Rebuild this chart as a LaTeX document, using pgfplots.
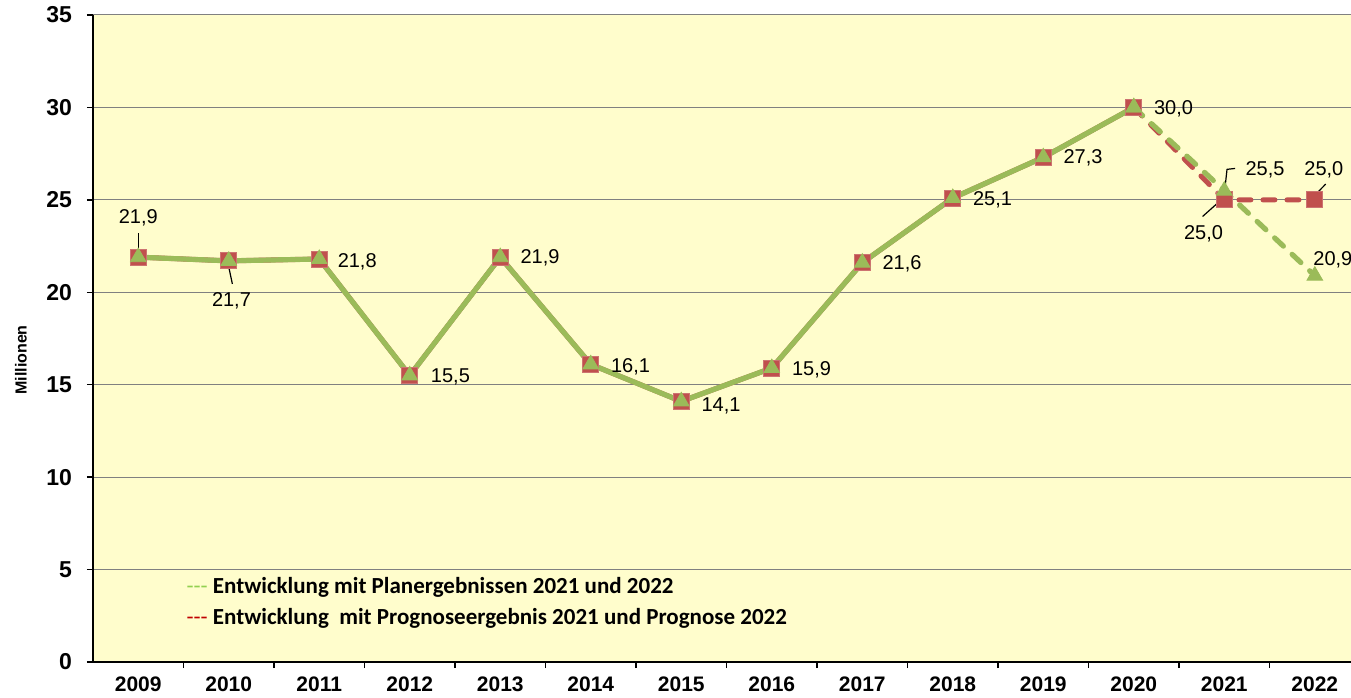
\documentclass[border=0pt]{standalone}
\usepackage{fontspec}
\setmainfont{Liberation Sans}
\newfontfamily\calibri{Carlito}
\usepackage{pgfplots}
\pgfplotsset{compat=1.18}
\usepackage{pgfplotstable}
\usetikzlibrary{calc}
\definecolor{bg}{RGB}{255,253,204}
\definecolor{gr}{RGB}{155,187,89}
\definecolor{rd}{RGB}{192,80,77}
\definecolor{lg}{RGB}{146,208,80}
\definecolor{lr}{RGB}{192,0,0}

\pgfplotstableread{
x y
0 21.9
1 21.7
2 21.8
3 15.5
4 21.9
5 16.1
6 14.1
7 15.9
8 21.6
9 25.1
10 27.3
11 30.0
}\histdata
\pgfplotstableread{
x y
11 30.0
12 25.0
13 25.0
}\progdata
\pgfplotstableread{
x y
11 30.0
12 25.5
13 20.9
}\plandata

\begin{document}
\begin{tikzpicture}
\begin{axis}[name=ax, at={(0,0)}, anchor=south west,
  scale only axis, width=629pt, height=323.5pt,
  xmin=-0.5, xmax=13.4, ymin=0, ymax=35,
  axis x line*=bottom, axis y line*=left,
  axis line style={line width=0.75pt, black},
  ytick={0,5,...,35},
  ymajorgrids, grid style={color=black!50, line width=0.5pt},
  xtick={0,...,13},
  xticklabels={2009,2010,2011,2012,2013,2014,2015,2016,2017,2018,2019,2020,2021,2022},
  major x tick style={draw=none},
  minor xtick={0.5,1.5,...,12.5},
  minor x tick style={black, line width=0.75pt},
  major y tick style={black, line width=0.75pt},
  tick align=outside, major tick length=3pt, minor tick length=3pt,
  yticklabel style={font=\bfseries\fontsize{11.5}{13}\selectfont, xshift=-4pt},
  xticklabel style={font=\bfseries\fontsize{10.5}{12}\selectfont, yshift=-1pt},
  /pgf/number format/assume math mode=true,
  axis background/.style={fill=bg},
  clip=false,
]
\addplot[rd, line width=2.5pt, mark=square*, mark size=4pt, mark options={solid, line width=0.4pt, fill=rd, draw=rd!80!white}] table {\histdata};
\addplot[rd, line width=2.5pt, line cap=round, dash pattern=on 6pt off 6pt, mark=square*, mark size=4pt, mark options={solid, line width=0.4pt, fill=rd, draw=rd!80!white}] table {\progdata};
\addplot[gr, line width=2.6pt, mark=triangle*, mark size=4.5pt, mark options={solid, line width=0.4pt}] table {\histdata};
\addplot[gr, line width=2.6pt, line cap=round, dash pattern=on 6pt off 6pt, mark=triangle*, mark size=4.5pt, mark options={solid, line width=0.4pt}] table {\plandata};

\begin{scope}[every node/.style={font=\fontsize{10}{12}\selectfont, inner sep=0pt}]
\node at (axis cs:0,24.05) {21,9};
\draw[black, line width=0.6pt] (axis cs:0,23.2) -- (axis cs:0,21.9);
\node at (axis cs:1.03,19.55) {21,7};
\draw[black, line width=0.6pt] (axis cs:0.99,21.6) -- (axis cs:1.04,20.45);
\node[anchor=west] at (axis cs:2.2,21.65) {21,8};
\node[anchor=west] at (axis cs:3.23,15.4) {15,5};
\node[anchor=west] at (axis cs:4.22,21.85) {21,9};
\node[anchor=west] at (axis cs:5.22,15.95) {16,1};
\node[anchor=west] at (axis cs:6.22,13.85) {14,1};
\node[anchor=west] at (axis cs:7.22,15.8) {15,9};
\node[anchor=west] at (axis cs:8.22,21.55) {21,6};
\node[anchor=west] at (axis cs:9.22,25.0) {25,1};
\node[anchor=west] at (axis cs:10.22,27.25) {27,3};
\node[anchor=west] at (axis cs:11.22,29.9) {30,0};
\node[anchor=west] at (axis cs:12.23,26.6) {25,5};
\draw[black, line width=0.6pt] (axis cs:12.0,25.3) -- (axis cs:12.03,26.65) -- (axis cs:12.12,26.7);
\node at (axis cs:11.77,23.15) {25,0};
\draw[black, line width=0.6pt] (axis cs:12.0,25.15) -- (axis cs:11.76,24.1);
\node at (axis cs:13.1,26.6) {25,0};
\draw[black, line width=0.6pt] (axis cs:13.0,25.25) -- (axis cs:13.12,25.85);
\node[anchor=west] at (axis cs:12.98,21.75) {20,9};
\end{scope}

\node[anchor=west, inner sep=0pt, font=\calibri\fontsize{11.5}{13}\selectfont] at (axis cs:0.53,4.06)
  {\textcolor{lg}{-{}-{}-} \bfseries Entwicklung mit Planergebnissen 2021 und 2022};
\node[anchor=west, inner sep=0pt, font=\calibri\fontsize{11.5}{13}\selectfont] at (axis cs:0.53,2.38)
  {\textcolor{lr}{-{}-{}-} \bfseries Entwicklung\ \ mit Prognoseergebnis 2021 und Prognose 2022};
\end{axis}
\node[rotate=90, font=\bfseries\fontsize{8}{9}\selectfont, inner sep=0pt] at ($(ax.south west)+(-36pt,151pt)$) {Millionen};
\pgfresetboundingbox
\path[use as bounding box] ($(ax.south west)+(-46.5pt,-17.5pt)$) rectangle ($(ax.north east)+(0,7.5pt)$);
\end{tikzpicture}
\end{document}
